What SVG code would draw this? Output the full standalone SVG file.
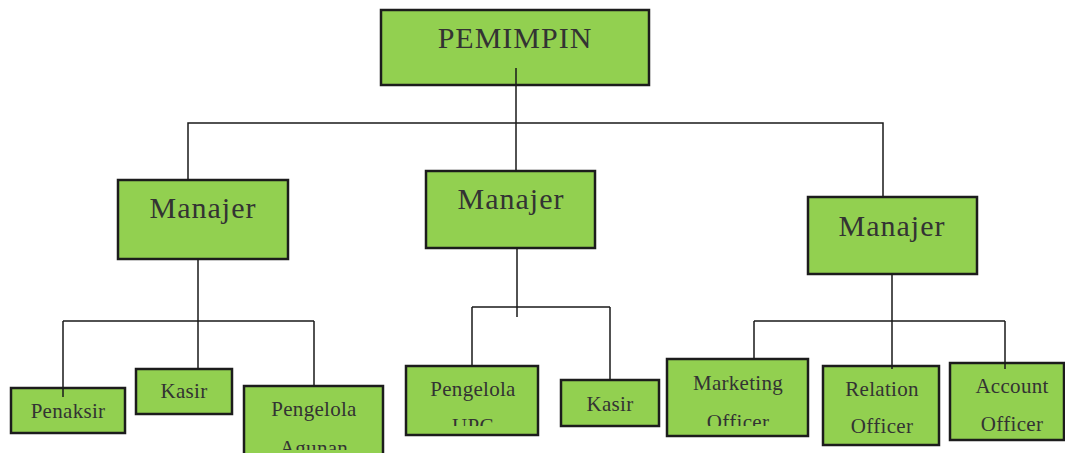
<svg xmlns="http://www.w3.org/2000/svg" width="1065" height="453" viewBox="0 0 1065 453">
<style>
.box{fill:#92d050;stroke:#1c1c1c;stroke-width:2.5}
.con{fill:none;stroke:#1a1a1a;stroke-width:1.5}
.big{font-family:"Liberation Serif","Times New Roman",serif;font-size:30px;fill:#333;text-anchor:middle;letter-spacing:1px}
.sm{font-family:"Liberation Serif","Times New Roman",serif;font-size:21px;fill:#333;text-anchor:middle;letter-spacing:0.3px}
</style>
<defs>
<clipPath id="clipUpc"><rect x="406" y="366" width="132" height="60"/></clipPath>
<clipPath id="clipMkt"><rect x="667" y="359" width="141" height="67"/></clipPath>
<clipPath id="clipAgn"><rect x="244" y="386" width="140" height="64"/></clipPath>
</defs>
<g id="nodes-bg">
<g id="pemimpin"><rect class="box" x="381" y="10" width="268" height="75"/><text class="big" x="515" y="48">PEMIMPIN</text></g>
<g id="manajer1"><rect class="box" x="118" y="180" width="170" height="79"/><text class="big" x="203" y="218">Manajer</text></g>
<g id="manajer2"><rect class="box" x="426" y="171" width="169" height="77"/><text class="big" x="511" y="209">Manajer</text></g>
<g id="manajer3"><rect class="box" x="808" y="197" width="169" height="77"/><text class="big" x="892" y="236">Manajer</text></g>
<g id="penaksir"><rect class="box" x="11" y="388" width="114" height="45"/><text class="sm" x="68" y="418">Penaksir</text></g>
<g id="kasir1"><rect class="box" x="136" y="369" width="96" height="45"/><text class="sm" x="184" y="398">Kasir</text></g>
<g id="pengelola-agunan"><rect class="box" x="244" y="386" width="139" height="80"/><g clip-path="url(#clipAgn)"><text class="sm" x="314" y="416">Pengelola</text><text class="sm" x="314" y="455">Agunan</text></g></g>
<g id="pengelola-upc"><rect class="box" x="406" y="366" width="132" height="69"/><g clip-path="url(#clipUpc)"><text class="sm" x="473" y="396">Pengelola</text><text class="sm" x="473" y="433">UPC</text></g></g>
<g id="kasir2"><rect class="box" x="561" y="380" width="98" height="46"/><text class="sm" x="610" y="411">Kasir</text></g>
<g id="marketing-officer"><rect class="box" x="667" y="359" width="141" height="77"/><g clip-path="url(#clipMkt)"><text class="sm" x="738" y="390">Marketing</text><text class="sm" x="738" y="429">Officer</text></g></g>
<g id="relation-officer"><rect class="box" x="823" y="366" width="116" height="79"/><text class="sm" x="882" y="396">Relation</text><text class="sm" x="882" y="433">Officer</text></g>
<g id="account-officer"><rect class="box" x="950" y="363" width="114" height="77"/><text class="sm" x="1012" y="393">Account</text><text class="sm" x="1012" y="431">Officer</text></g>
</g>
<g id="connectors">
<path class="con" d="M516 68V123M188 180V123H883V197M516 123V171"/>
<path class="con" d="M198 259V321M63 321H314M63 321V397M198 321V369M314 321V386"/>
<path class="con" d="M517 248V317M472 307H610M472 307V366M610 307V380"/>
<path class="con" d="M892 274V369M754 321H1005M754 321V359M1005 321V369"/>
</g>
</svg>
